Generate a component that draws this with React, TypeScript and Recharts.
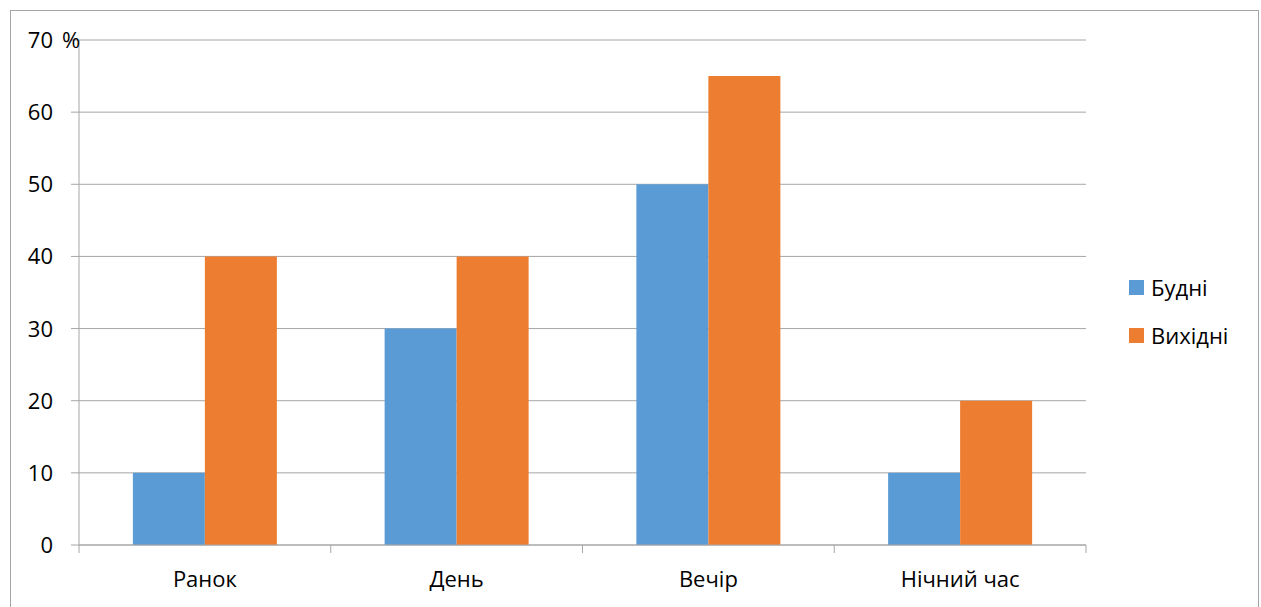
import React from "react"
import { BarChart, Bar, XAxis, YAxis, CartesianGrid } from "recharts"

const categories = ["Ранок", "День", "Вечір", "Нічний час"]
const weekdays = [10, 30, 50, 10]
const weekends = [40, 40, 65, 20]
const yTicks = [0, 10, 20, 30, 40, 50, 60, 70]

const seriesNames = { weekdays: "Будні", weekends: "Вихідні" }
const colors = { weekdays: "#5B9BD5", weekends: "#ED7D31" }

const data = categories.map((name, i) => ({
  name,
  weekdays: weekdays[i],
  weekends: weekends[i],
}))

const CHART_W = 1261
const CHART_H = 607
const Y_AXIS_W = 79
const X_AXIS_H = 62
const MARGIN = { top: 40, right: 175, bottom: 0, left: 0 }
const PLOT_W = CHART_W - Y_AXIS_W - MARGIN.left - MARGIN.right
const BAND = PLOT_W / categories.length

const FONT = "'Open Sans', sans-serif"
const FONT_SIZE = 22
const GRID = "#A6A6A6"

const YTick = (props: any) => {
  const { x, y, payload } = props
  return (
    <g>
      <text x={x} y={y} dy={8} textAnchor="end" fontFamily={FONT} fontSize={FONT_SIZE} fill="#000">
        {payload.value}
      </text>
      {/* the top label carries the unit, overlapping the axis line like the original */}
      {payload.value === 70 && (
        <text x={x + 9} y={y} dy={8} textAnchor="start" fontFamily={FONT} fontSize={FONT_SIZE} fill="#000">
          %
        </text>
      )}
    </g>
  )
}

const XTick = (props: any) => {
  const { x, payload, index } = props
  const axisY = CHART_H - X_AXIS_H
  return (
    <g>
      <line x1={x - BAND / 2} x2={x - BAND / 2} y1={axisY} y2={axisY + 8} stroke={GRID} />
      {index === categories.length - 1 && (
        <line x1={x + BAND / 2} x2={x + BAND / 2} y1={axisY} y2={axisY + 8} stroke={GRID} />
      )}
      <text x={x} y={axisY + 42} textAnchor="middle" fontFamily={FONT} fontSize={FONT_SIZE} fill="#000">
        {payload.value}
      </text>
    </g>
  )
}

const ChartLegend = () => (
  <div
    style={{
      position: "absolute",
      left: 1129,
      top: 263,
      fontFamily: FONT,
      fontSize: FONT_SIZE,
      color: "#000",
    }}
  >
    {(["weekdays", "weekends"] as const).map((key) => (
      <div key={key} style={{ display: "flex", alignItems: "center", height: 48 }}>
        <span style={{ width: 15, height: 15, background: colors[key], display: "inline-block", marginRight: 7 }} />
        <span>{seriesNames[key]}</span>
      </div>
    ))}
  </div>
)

export default function App() {
  return (
    <div style={{ position: "absolute", left: 0, top: 0, width: CHART_W, height: CHART_H }}>
      <div
        style={{
          position: "absolute",
          left: 10,
          top: 10,
          width: 1249,
          height: 597,
          borderTop: "1px solid #A6A6A6",
          borderLeft: "1px solid #A6A6A6",
          borderRight: "1px solid #A6A6A6",
          boxSizing: "border-box",
        }}
      />
      <BarChart
        width={CHART_W}
        height={CHART_H}
        data={data}
        margin={MARGIN}
        barCategoryGap="21.4%"
        barGap={0}
      >
        <CartesianGrid vertical={false} stroke={GRID} />
        <XAxis
          dataKey="name"
          height={X_AXIS_H}
          axisLine={{ stroke: GRID }}
          tickLine={false}
          tick={<XTick />}
          interval={0}
        />
        <YAxis
          width={Y_AXIS_W}
          domain={[0, 70]}
          ticks={yTicks}
          interval={0}
          axisLine={{ stroke: GRID }}
          tickLine={{ stroke: GRID }}
          tickSize={8}
          tickMargin={18}
          tick={<YTick />}
        />
        <Bar dataKey="weekdays" name={seriesNames.weekdays} fill={colors.weekdays} isAnimationActive={false} />
        <Bar dataKey="weekends" name={seriesNames.weekends} fill={colors.weekends} isAnimationActive={false} />
      </BarChart>
      <ChartLegend />
    </div>
  )
}
